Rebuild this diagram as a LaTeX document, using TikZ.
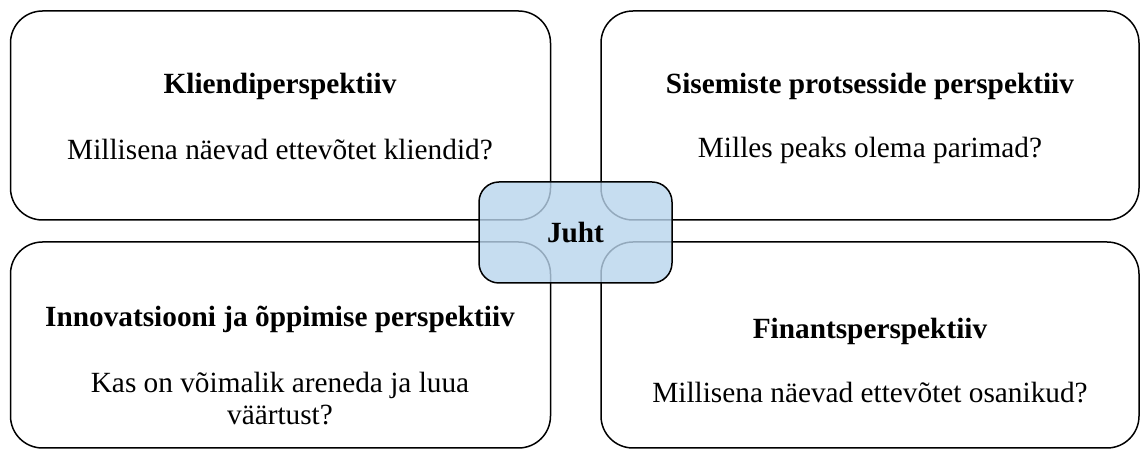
\documentclass[tikz,border=0pt]{standalone}
\usepackage{fontspec}
\setmainfont{Liberation Serif}
\usetikzlibrary{positioning}
\definecolor{juhtfill}{rgb}{0.72,0.83,0.925}

\begin{document}
\begin{tikzpicture}[line cap=round,line join=round,x=1pt,y=1pt,
	panel/.style={draw,line width=1.5pt,rounded corners=32pt,inner sep=0pt},
	head/.style={font=\fontsize{29.3}{32}\selectfont\bfseries,inner sep=0pt},
	ask/.style={font=\fontsize{29.3}{32}\selectfont,align=center,inner sep=0pt}]
	\useasboundingbox (0,0) rectangle (1140,449);
	% four perspectives
	\node[panel,minimum width=540pt,minimum height=209pt] (klient) at (280.5,333.5) {};
	\node[panel,minimum width=538pt,minimum height=209pt] (protsess) at (870,333.5) {};
	\node[panel,minimum width=540pt,minimum height=206pt] (innov) at (280.5,104) {};
	\node[panel,minimum width=538pt,minimum height=206pt] (finants) at (870,104) {};
	% texts
	\node[head] (klientT) at (280,363) {Kliendiperspektiiv};
	\node[ask] (klientQ) at (280,299) {Millisena näevad ettevõtet kliendid?};
	\node[head] (protsessT) at (870,363) {Sisemiste protsesside perspektiiv};
	\node[ask] (protsessQ) at (870,299) {Milles peaks olema parimad?};
	\node[head] (innovT) at (280,130) {Innovatsiooni ja õppimise perspektiiv};
	\node[ask] (innovQ) at (280,50) {Kas on võimalik areneda ja luua\\väärtust?};
	\node[head] (finantsT) at (870,118) {Finantsperspektiiv};
	\node[ask] (finantsQ) at (870,56) {Millisena näevad ettevõtet osanikud?};
	% centre
	\node[draw,line width=1.5pt,rounded corners=20pt,fill=juhtfill,fill opacity=0.8,text opacity=1,
		minimum width=193pt,minimum height=101pt,head] (juht) at (575.5,216.5) {Juht};
\end{tikzpicture}
\end{document}
